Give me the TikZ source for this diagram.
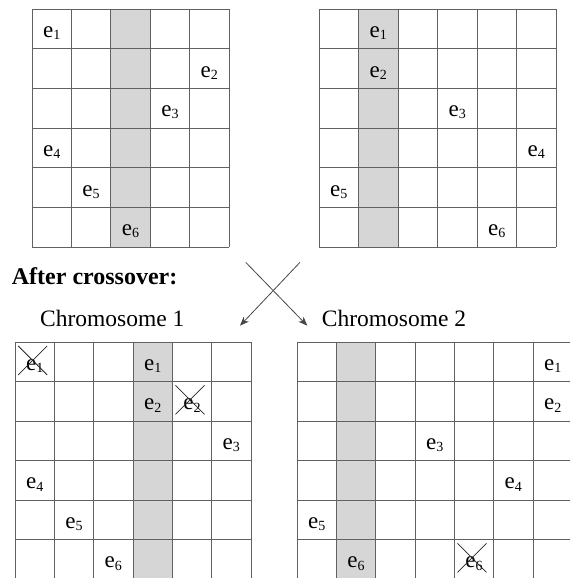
\documentclass[tikz,border=0pt]{standalone}
\usepackage{fontspec}
\setmainfont{Liberation Serif}
\usetikzlibrary{arrows.meta}
\tikzset{
  gridline/.style={draw=black!62, line width=0.9pt},
  shadecol/.style={fill=black!16},
  elabel/.style={anchor=base, inner sep=0pt, font=\fontsize{23}{23}\selectfont},
  strikeline/.style={draw=black!85, line width=0.75pt},
  crossarrow/.style={draw=black!72, line width=0.8pt, -{Stealth[length=9pt,width=7pt,inset=2.5pt]}},
  titletext/.style={anchor=base west, inner sep=0pt, font=\fontsize{24}{24}\selectfont\bfseries},
  chromtext/.style={anchor=base west, inner sep=0pt, font=\fontsize{23.5}{23.5}\selectfont},
}
\newcommand{\esub}[1]{e\raisebox{-0.09em}{\fontsize{14}{14}\selectfont #1}}
% grid in cell units: ncols, nrows, shaded column
\newcommand{\cellgrid}[3]{%
  \fill[shadecol] ({#3-1},0) rectangle (#3,#2);
  \foreach \i in {0,...,#1} {\draw[gridline] (\i,0) -- (\i,#2);}
  \foreach \j in {0,...,#2} {\draw[gridline] (0,\j) -- (#1,\j);}
}
% label in cell units: name, column, row, digit
\newcommand{\cellabel}[4]{%
  \node[elabel] (#1) at ({#2-0.5},{#3-1+0.72}) {\esub{#4}};
}
% strike-through cross over a label
\newcommand{\strikeout}[1]{%
  \draw[strikeline] ([shift={(-16.5pt,24.5pt)}]#1.base) -- ([shift={(12.5pt,-4.5pt)}]#1.base);
  \draw[strikeline] ([shift={(12.5pt,24.5pt)}]#1.base) -- ([shift={(-16.5pt,-4.5pt)}]#1.base);
}
\begin{document}
\begin{tikzpicture}[x=1pt,y=-1pt]
\useasboundingbox (0,0) rectangle (570,578);
\clip (0,0) rectangle (570,578);

% top-left parent
\begin{scope}[shift={(32,9)}, x=39.4pt, y=-39.67pt]
  \cellgrid{5}{6}{3}
  \cellabel{tla}{1}{1}{1}
  \cellabel{tlb}{5}{2}{2}
  \cellabel{tlc}{4}{3}{3}
  \cellabel{tld}{1}{4}{4}
  \cellabel{tle}{2}{5}{5}
  \cellabel{tlf}{3}{6}{6}
\end{scope}

% top-right parent
\begin{scope}[shift={(319,9)}, x=39.5pt, y=-39.67pt]
  \cellgrid{6}{6}{2}
  \cellabel{tra}{2}{1}{1}
  \cellabel{trb}{2}{2}{2}
  \cellabel{trc}{4}{3}{3}
  \cellabel{trd}{6}{4}{4}
  \cellabel{tre}{1}{5}{5}
  \cellabel{trf}{5}{6}{6}
\end{scope}

% heading and crossover arrows
\node[titletext] (title) at (11.7,284.3) {After crossover:};
\node[chromtext] (chromA) at (40,326) {Chromosome 1};
\node[chromtext] (chromB) at (321.7,326) {Chromosome 2};
\coordinate (aAs) at (300,262.3);
\coordinate (aAe) at (240,325.7);
\coordinate (aBs) at (245.7,262.3);
\coordinate (aBe) at (307.3,325.7);
\draw[crossarrow] (aAs) -- (aAe);
\draw[crossarrow] (aBs) -- (aBe);

% bottom-left child
\begin{scope}[shift={(15,342)}, x=39.33pt, y=-39.5pt]
  \cellgrid{6}{6}{4}
  \cellabel{blx}{1}{1}{1}
  \cellabel{bla}{4}{1}{1}
  \cellabel{blb}{4}{2}{2}
  \cellabel{bly}{5}{2}{2}
  \cellabel{blc}{6}{3}{3}
  \cellabel{bld}{1}{4}{4}
  \cellabel{ble}{2}{5}{5}
  \cellabel{blf}{3}{6}{6}
\end{scope}

% bottom-right child
\begin{scope}[shift={(297,342)}, x=39.33pt, y=-39.5pt]
  \cellgrid{7}{6}{2}
  \cellabel{bra}{7}{1}{1}
  \cellabel{brb}{7}{2}{2}
  \cellabel{brc}{4}{3}{3}
  \cellabel{brd}{6}{4}{4}
  \cellabel{bre}{1}{5}{5}
  \cellabel{brf}{2}{6}{6}
  \cellabel{brx}{5}{6}{6}
\end{scope}

\strikeout{blx}
\strikeout{bly}
\strikeout{brx}
\end{tikzpicture}
\end{document}
